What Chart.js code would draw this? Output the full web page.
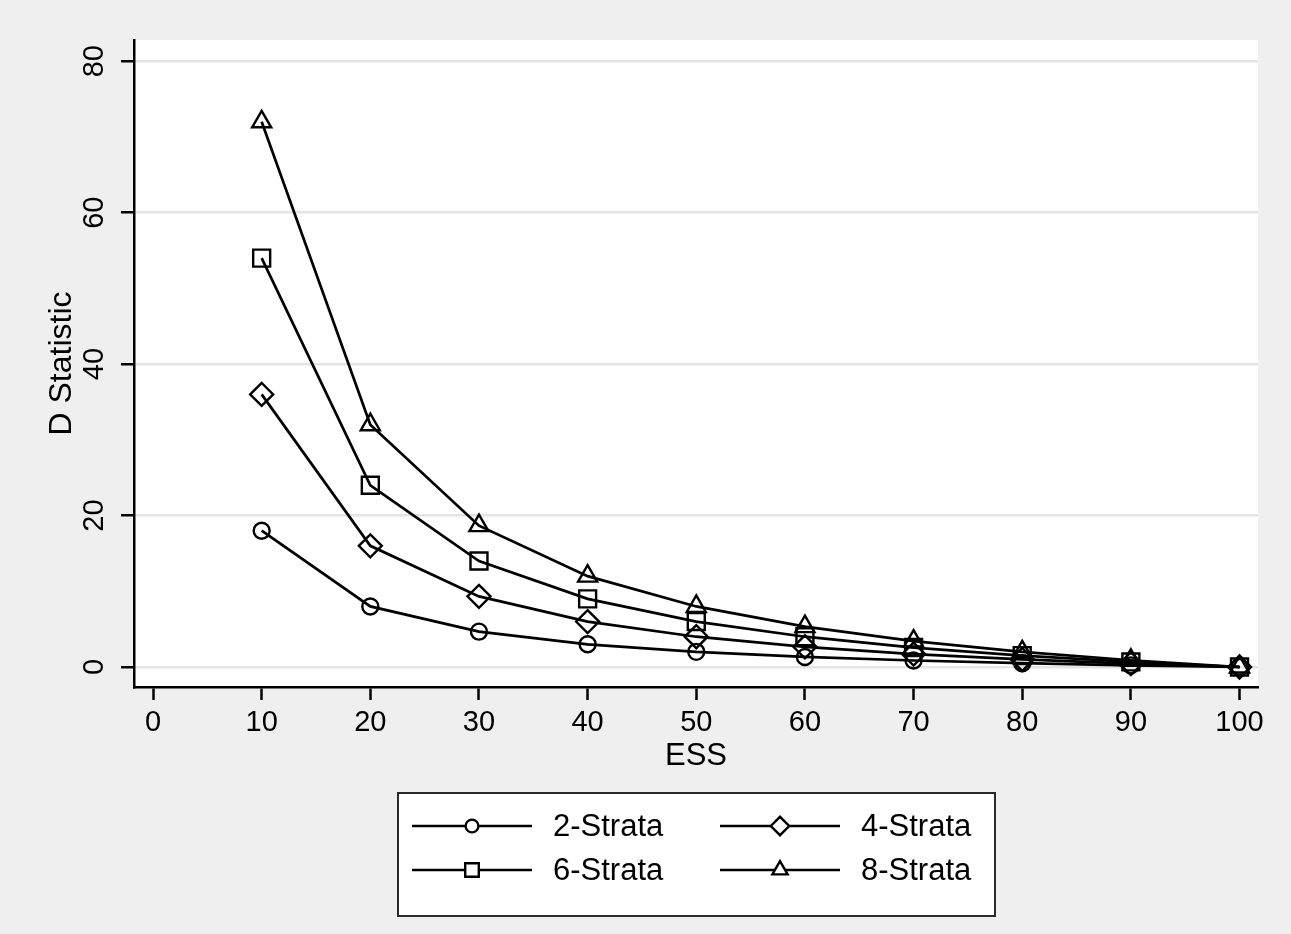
<!DOCTYPE html>
<html>
<head>
<meta charset="utf-8">
<script src="https://cdn.jsdelivr.net/npm/chart.js@4.4.1/dist/chart.umd.min.js"></script>
<style>
  html, body { margin: 0; padding: 0; background: #efefef; }
  canvas { display: block; }
</style>
</head>
<body>
<canvas id="myChart" width="1291" height="934"></canvas>
<script>
// data
const ess = [10, 20, 30, 40, 50, 60, 70, 80, 90, 100];
const strata2 = [18, 8, 4.67, 3, 2, 1.33, 0.86, 0.5, 0.22, 0];
const strata4 = [36, 16, 9.33, 6, 4, 2.67, 1.71, 1, 0.44, 0];
const strata6 = [54, 24, 14, 9, 6, 4, 2.57, 1.5, 0.67, 0];
const strata8 = [72, 32, 18.67, 12, 8, 5.33, 3.43, 2, 0.89, 0];
const xTicks = [0, 10, 20, 30, 40, 50, 60, 70, 80, 90, 100];
const yTicks = [0, 20, 40, 60, 80];
const seriesNames = ['2-Strata', '4-Strata', '6-Strata', '8-Strata'];

const FONT = 'Arial, "Liberation Sans", sans-serif';

function series(label, values, style, radius) {
  return {
    label: label,
    data: ess.map((x, i) => ({ x: x, y: values[i] })),
    borderColor: '#000',
    borderWidth: 2.7,
    pointStyle: style,
    pointRadius: radius,
    pointBorderWidth: 2.4,
    pointBorderColor: '#000',
    pointBackgroundColor: 'rgba(0,0,0,0)',
    tension: 0,
    fill: false
  };
}

// white plot region + gray page
const backdrop = {
  id: 'backdrop',
  beforeDraw(chart) {
    const { ctx, chartArea: a } = chart;
    ctx.save();
    ctx.fillStyle = '#efefef';
    ctx.fillRect(0, 0, chart.width, chart.height);
    ctx.fillStyle = '#ffffff';
    ctx.fillRect(a.left, a.top, a.right - a.left, a.bottom - a.top);
    ctx.restore();
  }
};

// rotated y tick labels and the boxed legend
const extras = {
  id: 'extras',
  afterDraw(chart) {
    const ctx = chart.ctx;
    const y = chart.scales.y;
    ctx.save();
    ctx.fillStyle = '#000';
    ctx.font = '29px ' + FONT;
    ctx.textAlign = 'center';
    ctx.textBaseline = 'middle';
    yTicks.forEach(v => {
      ctx.save();
      ctx.translate(95, y.getPixelForValue(v));
      ctx.rotate(-Math.PI / 2);
      ctx.fillText(String(v), 0, 0);
      ctx.restore();
    });

    // legend box
    const bx = 398, by = 793, bw = 597, bh = 123;
    ctx.fillStyle = '#fff';
    ctx.fillRect(bx, by, bw, bh);
    ctx.strokeStyle = '#2a2a2a';
    ctx.lineWidth = 2;
    ctx.strokeRect(bx, by, bw, bh);

    const rows = [826, 870];
    const cols = [412, 720];
    const ds = chart.data.datasets;
    ctx.font = '31px ' + FONT;
    ctx.textAlign = 'left';
    ds.forEach((d, i) => {
      const lx = cols[i % 2];
      const ly = rows[Math.floor(i / 2)];
      ctx.strokeStyle = '#000';
      ctx.lineWidth = 2.7;
      ctx.beginPath();
      ctx.moveTo(lx, ly);
      ctx.lineTo(lx + 120, ly);
      ctx.stroke();
      ctx.fillStyle = '#fff';
      ctx.lineWidth = 2.4;
      Chart.helpers.drawPoint(ctx, {
        pointStyle: d.pointStyle,
        radius: d.pointRadius * 0.8,
        rotation: 0,
        borderWidth: 2.4
      }, lx + 60, ly);
      ctx.fillStyle = '#000';
      ctx.fillText(d.label, lx + 141, ly + 1);
    });
    ctx.restore();
  }
};

const ctx = document.getElementById('myChart');

new Chart(ctx, {
  type: 'line',
  data: {
    datasets: [
      series(seriesNames[0], strata2, 'circle', 8),
      series(seriesNames[1], strata4, 'rectRot', 11.5),
      series(seriesNames[2], strata6, 'rect', 12),
      series(seriesNames[3], strata8, 'triangle', 11)
    ]
  },
  options: {
    responsive: false,
    animation: false,
    layout: { padding: { left: 0, top: 40, right: 33, bottom: 159 } },
    plugins: {
      legend: { display: false },
      tooltip: { enabled: false }
    },
    scales: {
      x: {
        type: 'linear',
        min: -1.75,
        max: 101.7,
        afterBuildTicks: s => { s.ticks = xTicks.map(v => ({ value: v })); },
        afterFit: s => { s.height = 88; },
        border: { color: '#000', width: 2.5 },
        grid: { drawOnChartArea: false, tickColor: '#000', tickLength: 13, tickWidth: 2.5 },
        ticks: { color: '#000', padding: 6, font: { family: FONT, size: 29 }, maxRotation: 0 },
        title: { display: true, text: 'ESS', color: '#000', padding: 0, font: { family: FONT, size: 31 } }
      },
      y: {
        min: -2.64,
        max: 82.8,
        afterBuildTicks: s => { s.ticks = yTicks.map(v => ({ value: v })); },
        afterFit: s => { s.width = 134; },
        border: { color: '#000', width: 2.5 },
        grid: { color: '#e4e4e4', lineWidth: 2.5, tickColor: '#000', tickLength: 13, tickWidth: 2.5 },
        ticks: { color: 'rgba(0,0,0,0)', font: { family: FONT, size: 29 } },
        title: { display: true, text: 'D Statistic', color: '#000', padding: { top: 43, bottom: 0 }, font: { family: FONT, size: 32 } }
      }
    }
  },
  plugins: [backdrop, extras]
});
</script>
</body>
</html>
